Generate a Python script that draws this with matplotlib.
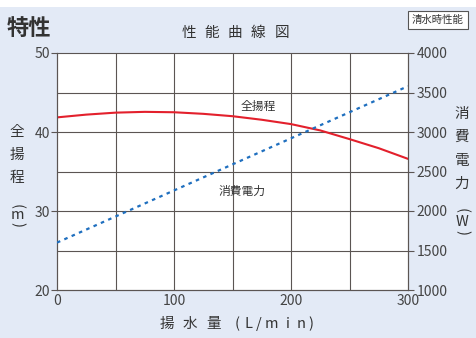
import matplotlib
matplotlib.use("Agg")
import matplotlib.pyplot as plt
from matplotlib.patches import Rectangle

plt.rcParams['font.family'] = ['Noto Sans CJK JP', 'DejaVu Sans']

# Data
flow = [0, 25, 50, 75, 100, 125, 150, 175, 200, 225, 250, 275, 300]
head = [41.85, 42.2, 42.45, 42.55, 42.5, 42.3, 42.0, 41.55, 41.0, 40.2, 39.1, 37.95, 36.6]
power_flow = [0, 300]
power = [1600, 3580]
x_ticks = [0, 100, 200, 300]
head_ticks = [20, 30, 40, 50]
power_ticks = [1000, 1500, 2000, 2500, 3000, 3500, 4000]

W, H = 476, 338
fig = plt.figure(figsize=(W / 100, H / 100), dpi=100)
bg = '#e3eaf6'
fig.patch.set_facecolor(bg)
fig.patches.append(Rectangle((0, 1 - 7 / H), 1, 7 / H, transform=fig.transFigure,
                             facecolor='white', edgecolor='none', zorder=0))

L, R, T, B = 57, 408, 53, 290
ax = fig.add_axes([L / W, 1 - B / H, (R - L) / W, (B - T) / H])
ax.set_facecolor('white')
ax2 = ax.twinx()

grid_c = '#5b5553'
txt_c = '#444444'

ax.set_xlim(0, 300)
ax.set_ylim(20, 50)
ax2.set_ylim(1000, 4000)

for v in range(50, 300, 50):
    ax.axvline(v, color=grid_c, lw=0.8, zorder=1)
for v in range(25, 50, 5):
    ax.axhline(v, color=grid_c, lw=0.8, zorder=1)

ax.plot(flow, head, color='#e3202c', lw=1.5, zorder=3)
ax2.plot(power_flow, power, color='#1f6fbf', lw=1.6, dashes=(1.6, 2.0), zorder=3)

ax.set_xticks(x_ticks)
ax.set_yticks(head_ticks)
ax2.set_yticks(power_ticks)
ax.tick_params(axis='x', length=0, labelsize=10, labelcolor=txt_c, pad=3)
ax.tick_params(axis='y', length=4, width=0.8, color=grid_c, labelsize=10, labelcolor=txt_c, pad=1)
ax2.tick_params(axis='y', length=4, width=0.8, color=grid_c, labelsize=10, labelcolor=txt_c, pad=2)

for a in (ax, ax2):
    for s in a.spines.values():
        s.set_color(grid_c)
        s.set_linewidth(0.8)
ax2.spines['top'].set_visible(False)

ax.text(172, 43.2, '全揚程', fontsize=8.5, color='#333333', ha='center', va='center')
ax.text(158, 32.5, '消費電力', fontsize=8.5, color='#333333', ha='center', va='center')

def ftxt(x, y, s, **kw):
    fig.text(x / W, 1 - y / H, s, **kw)

ftxt(7, 28, '特性', fontsize=16, fontweight='bold', color='#333333', ha='left', va='center')

tkw = dict(fontsize=10.5, color='#333333', ha='center', va='center')
for ch, x in zip('性能曲線図', [189, 212, 235, 258, 282]):
    ftxt(x, 33, ch, **tkw)

ftxt(438, 20, '清水時性能', fontsize=7.5, color='#333333', ha='center', va='center',
     bbox=dict(boxstyle='square,pad=0.35', facecolor='white', edgecolor='#555555', linewidth=0.8))

bkw = dict(fontsize=10.5, color='#333333', ha='center', va='center')
for ch, x in zip(['揚', '水', '量', '(', 'L', '/', 'm', 'i', 'n', ')'],
                 [167, 190, 214, 237, 248, 259, 271, 288, 301, 311]):
    ftxt(x, 324, ch, **bkw)

lab_kw = dict(fontsize=10.5, color='#333333', ha='center', va='center')
for ch, y in zip('全揚程', [132, 155, 178]):
    ftxt(17, y, ch, **lab_kw)
ftxt(17, 206, '(', rotation=-90, **lab_kw)
ftxt(17, 215, 'm', **lab_kw)
ftxt(17, 225, ')', rotation=-90, **lab_kw)

for ch, y in zip('消費電力', [114, 137, 161, 184]):
    ftxt(462, y, ch, **lab_kw)
ftxt(462, 211, '(', rotation=-90, **lab_kw)
ftxt(462, 222, 'W', **lab_kw)
ftxt(462, 233, ')', rotation=-90, **lab_kw)

fig.savefig('out.png', dpi=100, facecolor=fig.get_facecolor())
